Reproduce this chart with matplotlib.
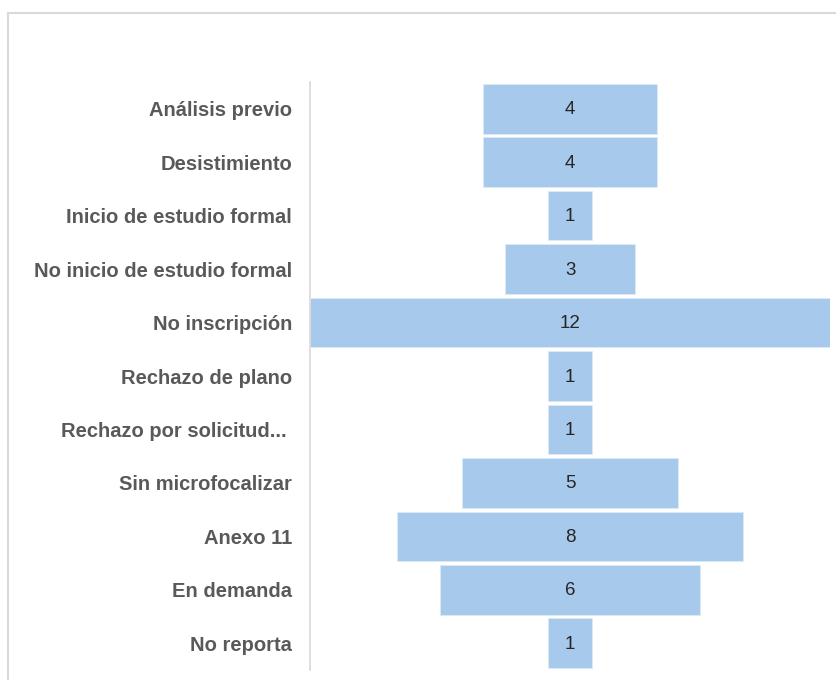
import matplotlib.pyplot as plt
from matplotlib.lines import Line2D

categorias = ["Análisis previo", "Desistimiento", "Inicio de estudio formal",
              "No inicio de estudio formal", "No inscripción", "Rechazo de plano",
              "Rechazo por solicitud... ", "Sin microfocalizar", "Anexo 11",
              "En demanda", "No reporta"]
valores = [4, 4, 1, 3, 12, 1, 1, 5, 8, 6, 1]

fig = plt.figure(figsize=(8.37, 6.8), dpi=100)
ax = fig.add_axes([0.3704, 0.0147, 0.6213, 0.8647])

pos = list(range(len(categorias)))
lefts = [-v / 2 for v in valores]
ax.barh(pos, valores, left=lefts, height=0.93, color="#A7CAEC",
        edgecolor="#DDEBF7", linewidth=0.6)

for p, v in zip(pos, valores):
    ax.text(0, p + 0.02, str(v), ha="center", va="center", fontsize=13.5,
            color="#262626", family=["Liberation Sans", "DejaVu Sans"])

ax.set_xlim(-6, 6)
ax.set_ylim(len(categorias) - 0.5, -0.5)
ax.set_yticks(pos)
ax.set_yticklabels(categorias, fontsize=14.5, fontweight="bold", color="#595959",
                   family=["Liberation Sans", "DejaVu Sans"])
ax.tick_params(axis="y", length=0, pad=13)
ax.set_xticks([])
for s in ["top", "right", "bottom"]:
    ax.spines[s].set_visible(False)
ax.spines["left"].set_color("#D9D9D9")
ax.spines["left"].set_linewidth(1.2)

# marco del gráfico
fig.add_artist(Line2D([0.0096, 0.0096], [0, 0.981], color="#D9D9D9", lw=1.5))
fig.add_artist(Line2D([0.0096, 1], [0.981, 0.981], color="#D9D9D9", lw=1.5))

fig.savefig("out.png", dpi=100)
